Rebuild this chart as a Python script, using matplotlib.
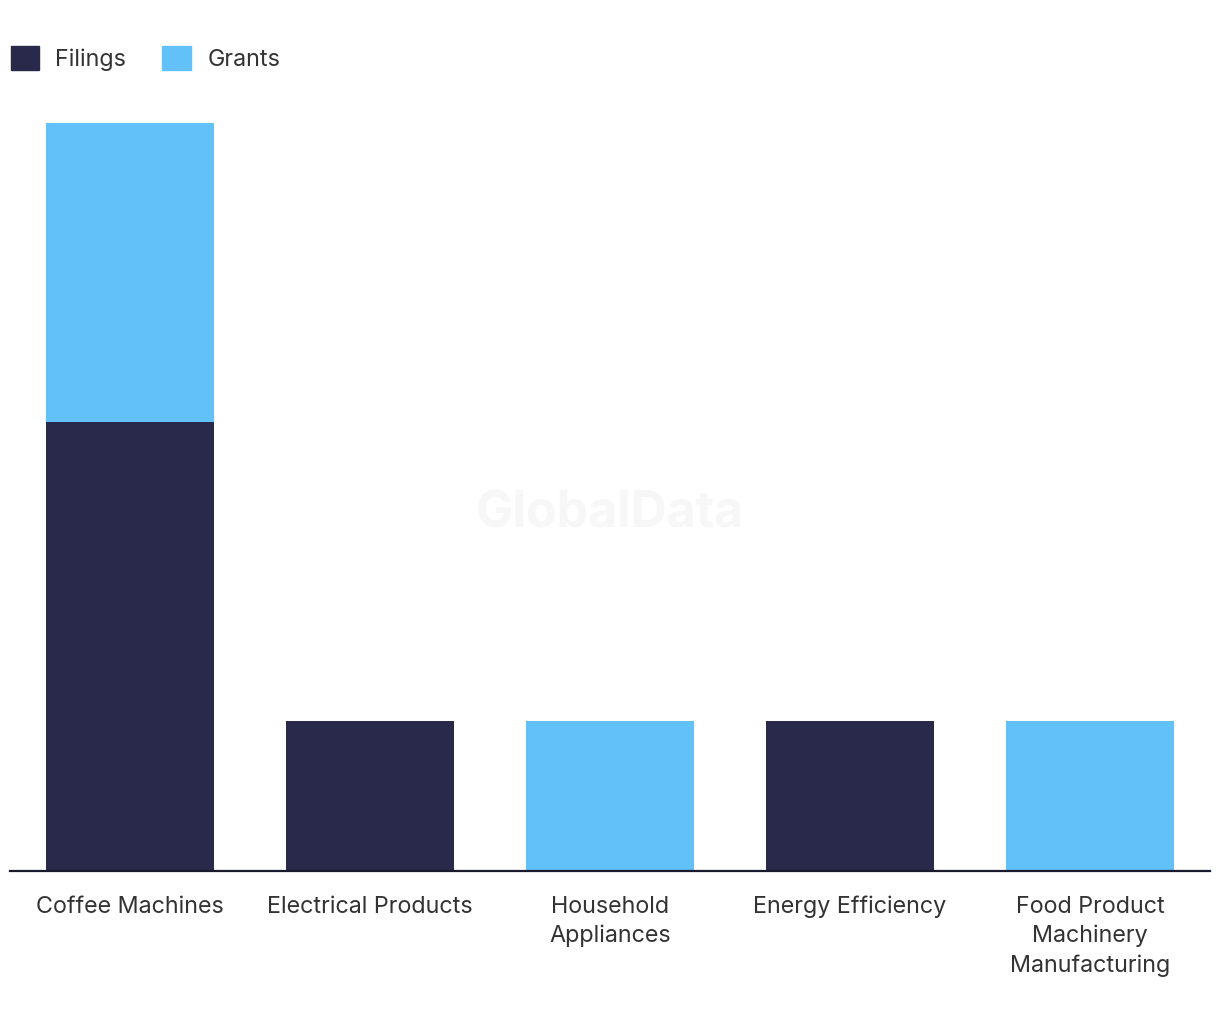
#!/usr/bin/env python3
import numpy as np
import matplotlib
matplotlib.use('Agg')
import matplotlib.pyplot as plt
from matplotlib.patches import Patch

categories = ['Coffee Machines', 'Electrical Products', 'Household\nAppliances',
              'Energy Efficiency', 'Food Product\nMachinery\nManufacturing']
filings = [3, 1, 0, 1, 0]
grants = [2, 0, 1, 0, 1]

NAVY = '#28294b'
BLUE = '#62c1f8'
TEXT = '#333333'

plt.rcParams['font.family'] = ['Inter', 'DejaVu Sans']

fig = plt.figure(figsize=(12.2, 10.2), dpi=100)
ax = fig.add_axes([10 / 1220, 148 / 1020, 1200 / 1220, 748 / 1020])

x = np.arange(len(categories))
ax.bar(x, filings, width=0.7, color=NAVY, linewidth=0)
ax.bar(x, grants, bottom=filings, width=0.7, color=BLUE, linewidth=0)

ax.set_xlim(-0.5, len(categories) - 0.5)
ax.set_ylim(0, 5)
ax.set_yticks([])
ax.set_xticks(x)
ax.set_xticklabels(categories, fontsize=16.8, color=TEXT, linespacing=1.42)
ax.tick_params(axis='x', length=0, pad=17)
for side in ['top', 'right', 'left']:
    ax.spines[side].set_visible(False)
ax.spines['bottom'].set_color('#1a1a2e')
ax.spines['bottom'].set_linewidth(1.6)

fig.text(0.5, 1 - 514 / 1020, 'GlobalData', fontsize=36, fontweight='bold',
         color='#f7f7f7', ha='center', va='center', zorder=0)

handles = [Patch(color=NAVY, label='Filings'), Patch(color=BLUE, label='Grants')]
fig.legend(handles=handles, loc='upper left', bbox_to_anchor=(0.0, 1 - 36 / 1020),
           ncol=2, frameon=False, fontsize=16.8, labelcolor=TEXT,
           handlelength=1.22, handleheight=1.22, handletextpad=0.7,
           columnspacing=1.55, borderaxespad=0, borderpad=0.45)

fig.savefig('out.png', dpi=100, facecolor='white')
